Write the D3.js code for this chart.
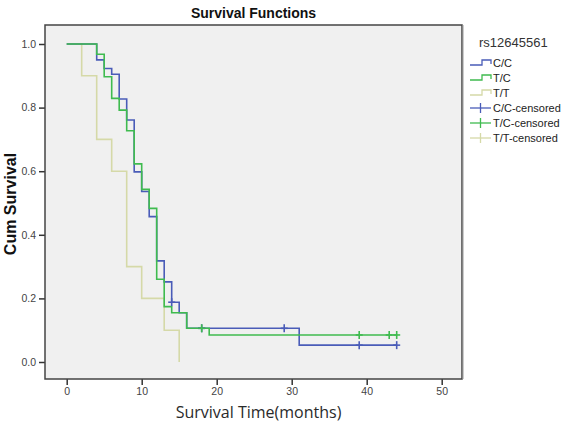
<!DOCTYPE html>
<html>
<head>
<meta charset="utf-8">
<script src="https://cdn.jsdelivr.net/npm/d3@7"></script>
<style>
  html, body { margin: 0; padding: 0; background: #ffffff; }
  svg { display: block; }
</style>
</head>
<body>
<div id="chart"></div>
<script>
// ---- data ----
const groupNames = ["C/C", "T/C", "T/T"];
const ccTimes = [0, 4, 5, 6, 7, 8, 9, 10, 11, 12, 13, 14, 15, 16, 31, 44];
const ccSurv  = [1, 0.95, 0.923, 0.905, 0.827, 0.761, 0.598, 0.536, 0.457, 0.318, 0.252, 0.188, 0.155, 0.106, 0.053, 0.053];
const ccCensored = [14, 18, 29, 39, 44];
const tcTimes = [0, 4, 5, 6, 7, 8, 9, 10, 11, 12, 13, 14, 16, 19, 44];
const tcSurv  = [1, 0.968, 0.897, 0.829, 0.792, 0.727, 0.623, 0.543, 0.483, 0.26, 0.174, 0.155, 0.106, 0.085, 0.085];
const tcCensored = [18, 39, 43, 44];
const ttTimes = [0, 2, 4, 6, 8, 10, 13, 15];
const ttSurv  = [1, 0.9, 0.7, 0.6, 0.3, 0.2, 0.1, 0];
const ttCensored = [];
const xTicks = [0, 10, 20, 30, 40, 50];
const yTicks = [0, 0.2, 0.4, 0.6, 0.8, 1.0];
const titleText = "Survival Functions";
const xLabel = "Survival Time(months)";
const yLabel = "Cum Survival";
const legendTitle = "rs12645561";

// ---- styles ----
const W = 566, H = 422;
const frame = { left: 45, right: 462, top: 25, bottom: 379 };
const colors = { "C/C": "#4a5cb8", "T/C": "#3fbb4f", "T/T": "#d5d9a8" };

const svg = d3.select("#chart").append("svg").attr("width", W).attr("height", H);

const x = d3.scaleLinear().domain([0, 50]).range([66.7, 441.7]);
const y = d3.scaleLinear().domain([0, 1]).range([362, 44]);

// plot background
svg.append("rect")
  .attr("x", frame.left).attr("y", frame.top)
  .attr("width", frame.right - frame.left).attr("height", frame.bottom - frame.top)
  .attr("fill", "#f0f0f0");

// title
svg.append("text")
  .attr("x", (frame.left + frame.right) / 2).attr("y", 18)
  .attr("text-anchor", "middle")
  .attr("font-family", "Liberation Sans, Arial, sans-serif")
  .attr("font-weight", "bold").attr("font-size", 14)
  .attr("fill", "#111")
  .text(titleText);

// axes
const yAxis = d3.axisLeft(y).tickValues(yTicks).tickFormat(d3.format(".1f")).tickSize(6).tickPadding(3);
const gy = svg.append("g").attr("transform", `translate(${frame.left},0)`).call(yAxis);
const xAxis = d3.axisBottom(x).tickValues(xTicks).tickFormat(d3.format("d")).tickSize(6).tickPadding(3);
const gx = svg.append("g").attr("transform", `translate(0,${frame.bottom})`).call(xAxis);
[gx, gy].forEach(g => {
  g.select(".domain").remove();
  g.selectAll(".tick line").attr("stroke", "#333").attr("stroke-width", 1.5);
  g.selectAll(".tick text")
    .attr("font-family", "Liberation Sans, Arial, sans-serif")
    .attr("font-size", 10.5).attr("fill", "#444");
});

// axis labels
svg.append("text")
  .attr("x", (frame.left + frame.right) / 2 + 5).attr("y", 418)
  .attr("text-anchor", "middle")
  .attr("font-family", "Open Sans, sans-serif")
  .attr("font-size", 16).attr("fill", "#2a2a2a")
  .text(xLabel);
svg.append("text")
  .attr("transform", `translate(16,${(frame.top + frame.bottom) / 2 + 2}) rotate(-90)`)
  .attr("text-anchor", "middle")
  .attr("font-family", "Liberation Sans, Arial, sans-serif")
  .attr("font-weight", "bold").attr("font-size", 16).attr("fill", "#111")
  .text(yLabel);

// curves
const series = [
  { name: "C/C", times: ccTimes, surv: ccSurv, cens: ccCensored },
  { name: "T/C", times: tcTimes, surv: tcSurv, cens: tcCensored },
  { name: "T/T", times: ttTimes, surv: ttSurv, cens: ttCensored }
];
const line = d3.line().x(d => x(d[0])).y(d => y(d[1])).curve(d3.curveStepAfter);
function survAt(s, t) {
  let v = s.surv[0];
  for (let i = 0; i < s.times.length; i++) if (s.times[i] <= t) v = s.surv[i];
  return v;
}
const drawOrder = [series[2], series[0], series[1]];
drawOrder.forEach(s => {
  svg.append("path")
    .datum(s.times.map((t, i) => [t, s.surv[i]]))
    .attr("d", line)
    .attr("fill", "none")
    .attr("stroke", colors[s.name]).attr("stroke-width", 1.6);
});
drawOrder.forEach(s => {
  const g = svg.append("g");
  s.cens.forEach(t => {
    const cx = x(t), cy = y(survAt(s, t));
    g.append("line").attr("x1", cx).attr("x2", cx).attr("y1", cy - 4).attr("y2", cy + 4)
      .attr("stroke", colors[s.name]).attr("stroke-width", 1.6);
    g.append("line").attr("x1", cx - 3.5).attr("x2", cx + 3.5).attr("y1", cy).attr("y2", cy)
      .attr("stroke", colors[s.name]).attr("stroke-width", 1.6);
  });
});

// frame
svg.append("rect")
  .attr("x", frame.left).attr("y", frame.top)
  .attr("width", frame.right - frame.left).attr("height", frame.bottom - frame.top)
  .attr("fill", "none").attr("stroke", "#444").attr("stroke-width", 1.5);
svg.append("line")
  .attr("x1", frame.right + 1).attr("x2", frame.right + 1)
  .attr("y1", frame.top).attr("y2", frame.bottom)
  .attr("stroke", "#999").attr("stroke-width", 1);

// legend
const lg = svg.append("g").attr("font-family", "Liberation Sans, Arial, sans-serif");
lg.append("text").attr("x", 479).attr("y", 47)
  .attr("font-size", 13).attr("fill", "#333").text(legendTitle);
const legendItems = [];
groupNames.forEach(n => legendItems.push({ label: n, color: colors[n], type: "step" }));
groupNames.forEach(n => legendItems.push({ label: n + "-censored", color: colors[n], type: "cens" }));
legendItems.forEach((it, i) => {
  const cy = 63 + i * 15;
  if (it.type === "step") {
    lg.append("path")
      .attr("d", `M470,${cy + 2}H482V${cy - 3}H491V${cy + 1}`)
      .attr("fill", "none").attr("stroke", it.color).attr("stroke-width", 1.3);
  } else {
    lg.append("line").attr("x1", 470).attr("x2", 491).attr("y1", cy).attr("y2", cy)
      .attr("stroke", it.color).attr("stroke-width", 1.3);
    lg.append("line").attr("x1", 480.5).attr("x2", 480.5).attr("y1", cy - 5).attr("y2", cy + 5)
      .attr("stroke", it.color).attr("stroke-width", 1.3);
  }
  lg.append("text").attr("x", 493).attr("y", cy + 4)
    .attr("font-size", 11).attr("fill", "#222").text(it.label);
});
</script>
</body>
</html>
